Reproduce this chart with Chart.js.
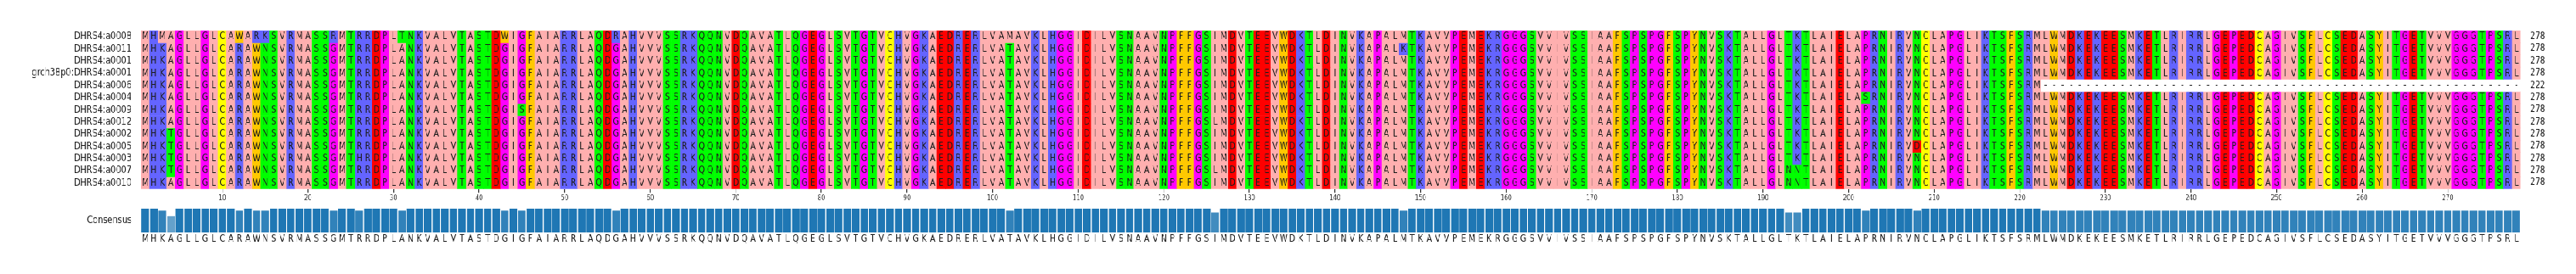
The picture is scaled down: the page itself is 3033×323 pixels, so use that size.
<!DOCTYPE html>
<html>
<head>
<meta charset="utf-8">
<title>DHRS4 - alinhamento</title>
<script src="https://cdn.jsdelivr.net/npm/chart.js@4.4.1/dist/chart.umd.min.js"></script>
<style>
  html, body { margin: 0; padding: 0; background: #fff; overflow: hidden; }
  #figura { position: relative; width: 3033px; height: 323px; overflow: hidden; }
  /* a figura original tem o texto mais estreito que alto: desenha largo e comprime em x */
  #esticado { position: absolute; left: 0; top: 0; width: 3791px; height: 323px; transform: scaleX(0.8); transform-origin: 0 0; }
  #alinhamento { position: absolute; left: 0; top: 0; }
  #consenso { position: absolute; left: 0; top: 240px; }
</style>
</head>
<body>
<div id="figura">
  <div id="esticado">
    <canvas id="alinhamento" width="3791" height="240"></canvas>
    <canvas id="consenso" width="3791" height="83"></canvas>
  </div>
</div>
<script>
const nomes = [
  "DHRS4:a0008",
  "DHRS4:a0011",
  "DHRS4:a0001",
  "grch38p0:DHRS4:a0001",
  "DHRS4:a0006",
  "DHRS4:a0004",
  "DHRS4:a0009",
  "DHRS4:a0012",
  "DHRS4:a0002",
  "DHRS4:a0005",
  "DHRS4:a0003",
  "DHRS4:a0007",
  "DHRS4:a0010",
];

// blocos de 10 residuos, os espacos saem na leitura
const sequencias = [
  "MHMAGLLGLC AWARKSVRMA SSRMTRRDPL TNKVALVTAS TDWIGFAIAR RLAQDRAHVV VSSRKQQNVD QAVATLQGEG LSVTGTVCHV GKAEDRERLV AMAVKLHGGI DILVSNAAVN PFFGSIMDVT EEVWDKTLDI NVKAPALMTK AVVPEMEKRG GGSVVIVSSI AAFSPSPGFS PYNVSKTALL GLTKTLAIEL APRNIRVNCL APGLIKTSFS RMLWMDKEKE ESMKETLRIR RLGEPEDCAG IVSFLCSEDA SYITGETVVV GGGTPSRL",
  "MHKAGLLGLC ARAWNSVRMA SSGMTRRDPL ANKVALVTAS TDGIGFAIAR RLAQDGAHVV VSSRKQQNVD QAVATLQGEG LSVTGTVCHV GKAEDRERLV ATAVKLHGGI DILVSNAAVN PFFGSIMDVT EEVWDKTLDI NVKAPALKTK AVVPEMEKRG GGSVVIVSSI AAFSPSPGFS PYNVSKTALL GLTKTLAIEL APRNIRVNCL APGLIKTSFS RMLWMDKEKE ESMKETLRIR RLGEPEDCAG IVSFLCSEDA SYITGETVVV GGGTPSRL",
  "MHKAGLLGLC ARAWNSVRMA SSGMTRRDPL ANKVALVTAS TDGIGFAIAR RLAQDGAHVV VSSRKQQNVD QAVATLQGEG LSVTGTVCHV GKAEDRERLV ATAVKLHGGI DILVSNAAVN PFFGSIMDVT EEVWDKTLDI NVKAPALMTK AVVPEMEKRG GGSVVIVSSI AAFSPSPGFS PYNVSKTALL GLTKTLAIEL APRNIRVNCL APGLIKTSFS RMLWMDKEKE ESMKETLRIR RLGEPEDCAG IVSFLCSEDA SYITGETVVV GGGTPSRL",
  "MHKAGLLGLC ARAWNSVRMA SSGMTRRDPL ANKVALVTAS TDGIGFAIAR RLAQDGAHVV VSSRKQQNVD QAVATLQGEG LSVTGTVCHV GKAEDRERLV ATAVKLHGGI DILVSNAAVN PFFGSIMDVT EEVWDKTLDI NVKAPALMTK AVVPEMEKRG GGSVVIVSSI AAFSPSPGFS PYNVSKTALL GLTKTLAIEL APRNIRVNCL APGLIKTSFS RMLWMDKEKE ESMKETLRIR RLGEPEDCAG IVSFLCSEDA SYITGETVVV GGGTPSRL",
  "MHKAGLLGLC ARAWNSVRMA SSGMTRRDPL ANKVALVTAS TDGIGFAIAR RLAQDGAHVV VSSRKQQNVD QAVATLQGEG LSVTGTVCHV GKAEDRERLV ATAVKLHGGI DILVSNAAVN PFFGSIMDVT EEVWDKTLDI NVKAPALMTK AVVPEMEKRG GGSVVIVSSI AAFSPSPGFS PYNVSKTALL GLTKTLAIEL APRNIRVNCL APGLIKTSFS RM-------- ---------- ---------- ---------- ---------- ---------- --------",
  "MHKAGLLGLC ARAWNSVRMA SSGMTRRDPL ANKVALVTAS TDGIGFAIAR RLAQDGAHVV VSSRKQQNVD QAVATLQGEG LSVTGTVCHV GKAEDRERLV ATAVKLHGGI DILVSNAAVN PFFGSIMDVT EEVWDKTLDI NVKAPALMTK AVVPEMEKRG GGSVVIVSSI AAFSPSPGFS PYNVSKTALL GLTKTLAIEL ASRNIRVNCL APGLIKTSFS RMLWMDKEKE ESMKETLRIR RLGEPEDCAG IVSFLCSEDA SYITGETVVV GGGTPSRL",
  "MHKAGLLGLC ARAWNSVRMA SSGMTRRDPL ANKVALVTAS TDGISFAIAR RLAQDGAHVV VSSRKQQNVD QAVATLQGEG LSVTGTVCHV GKAEDRERLV ATAVKLHGGI DILVSNAAVN PFFGSIMDVT EEVWDKTLDI NVKAPALMTK AVVPEMEKRG GGSVVIVSSI AAFSPSPGFS PYNVSKTALL GLTKTLAIEL APRNIRVNCL APGLIKTSFS RMLWMDKEKE ESMKETLRIR RLGEPEDCAG IVSFLCSEDA SYITGETVVV GGGTPSRL",
  "MHKAGLLGLC ARAWNSVRMA SSGMTRRDPL ANKVALVTAS TDGIGFAIAR RLAQDGAHVV VSSRKQQNVD QAVATLQGEG LSVTGTVCHV GKAEDRERLV ATAVKLHGGI DILVSNAAVN PFFGSLMDVT EEVWDKTLDI NVKAPALMTK AVVPEMEKRG GGSVVIVSSI AAFSPSPGFS PYNVSKTALL GLTKTLAIEL APRNIRVNCL APGLIKTSFS RMLWMDKEKE ESMKETLRIR RLGEPEDCAG IVSFLCSEDA SYITGETVVV GGGTPSRL",
  "MHKTGLLGLC ARAWNSVRMA SSGMTRRDPL ANKVALVTAS TDGIGFAIAR RLAQDGAHVV VSSRKQQNVD QAVATLQGEG LSVTGTVCHV GKAEDRERLV ATAVKLHGGI DILVSNAAVN PFFGSIMDVT EEVWDKTLDI NVKAPALMTK AVVPEMEKRG GGSVVIVSSI AAFSPSPGFS PYNVSKTALL GLTKTLAIEL APRNIRVNCL APGLIKTSFS RMLWMDKEKE ESMKETLRIR RLGEPEDCAG IVSFLCSEDA SYITGETVVV GGGTPSRL",
  "MHKTGLLGLC ARAWNSVRMA SSGMTRRDPL ANKVALVTAS TDGIGFAIAR RLAQDGAHVV VSSRKQQNVD QAVATLQGEG LSVTGTVCHV GKAEDRERLV ATAVKLHGGI DILVSNAAVN PFFGSIMDVT EEVWDKTLDI NVKAPALMTK AVVPEMEKRG GGSVVIVSSI AAFSPSPGFS PYNVSKTALL GLTKTLAIEL APRNIRVDCL APGLIKTSFS RMLWMDKEKE ESMKETLRIR RLGEPEDCAG IVSFLCSEDA SYITGETVVV GGGTPSRL",
  "MHKTGLLGLC ARAWNSVRMA SSGMTHRDPL ANKVALVTAS TDGIGFAIAR RLAQDGAHVV VSSRKQQNVD QAVATLQGEG LSVTGTVCHV GKAEDRERLV ATAVKLHGGI DILVSNAAVN PFFGSIMDVT EEVWDKTLDI NVKAPALMTK AVVPEMEKRG GGSVVIVSSI AAFSPSPGFS PYNVSKTALL GLTKTLAIEL APRNIRVNCL APGLIKTSFS RMLWMDKEKE ESMKETLRIR RLGEPEDCAG IVSFLCSEDA SYITGETVVV GGGTPSRL",
  "MHKTGLLGLC ARAWNSVRMA SSGMTRRDPL ANKVALVTAS TDGIGFAIAR RLAQDGAHVV VSSRKQQNVD QAVATLQGEG LSVTGTVCHV GKAEDRERLV ATAVKLHGGI DILVSNAAVN PFFGSLMDVT EEVWDKTLDI NVKAPALMTK AVVPEMEKRG GGSVVIVSSI AAFSPSPGFS PYNVSKTALL GLNNTLAIEL APRNIRVNCL APGLIKTSFS RMLWMDKEKE ESMKETLRIR RLGEPEDCAG IVSFLCSEDA SYITGETVVV GGGTPSRL",
  "MHKAGLLGLC ARAWNSVRMA SSGMTRRDPL ANKVALVTAS TDGIGFAIAR RLAQDGAHVV VSSRKQQNVD QAVATLQGEG LSVTGTVCHV GKAEDRERLV ATAVKLHGGI DILVSNAAVN PFFGSIMDVT EEVWDKTLDI NVKAPALMTK AVVPEMEKRG GGSVVIVSSI AAFSPSPGFS PYNVSKTALL GLNNTLAIEL APRNIRVNCL APGLIKTSFS RMLWMDKEKE ESMKETLRIR RLGEPEDCAG IVSFLCSEDA SYITGETVVV GGGTPSRL",
];

// esquema Zappo
const corZappo = {
  A: "#ffafaf", I: "#ffafaf", L: "#ffafaf", M: "#ffafaf", V: "#ffafaf",
  F: "#ffc800", W: "#ffc800", Y: "#ffc800",
  K: "#6464ff", R: "#6464ff", H: "#6464ff",
  D: "#ff0000", E: "#ff0000",
  S: "#00ff00", T: "#00ff00", N: "#00ff00", Q: "#00ff00",
  G: "#ff00ff", P: "#ff00ff",
  C: "#ffff00",
  "-": "#ffffff",
};

const FONTE = "'DejaVu Sans', sans-serif";

const linhas = sequencias.map((s) => s.replace(/\s+/g, ""));
const posicoes = Array.from(linhas[0], (_, i) => String(i + 1));
const contagens = linhas.map((l) => l.replace(/-/g, "").length);

function calcularConsenso(seqs) {
  const letras = [];
  const identidade = [];

  for (let j = 0; j < seqs[0].length; j++) {
    const contagem = {};
    seqs.forEach((s) => {
      if (s[j] !== "-") contagem[s[j]] = (contagem[s[j]] || 0) + 1;
    });

    let melhor = "-";
    let maximo = 0;
    for (const letra in contagem) {
      if (contagem[letra] > maximo) {
        melhor = letra;
        maximo = contagem[letra];
      }
    }
    letras.push(melhor);
    identidade.push(maximo / seqs.length);
  }

  return { letras, identidade };
}

const consenso = calcularConsenso(linhas);

// o Chart.js reserva meia altura de rotulo nas pontas dos eixos; aqui nao precisa
function semFolga(scale) {
  scale.paddingTop = 0;
  scale.paddingBottom = 0;
  scale.paddingLeft = 0;
  scale.paddingRight = 0;
}

// escreve a letra de cada residuo no meio da sua celula
const letrasResiduos = {
  id: "letrasResiduos",
  afterDatasetsDraw(chart) {
    const ctx = chart.ctx;
    ctx.save();
    ctx.font = "11.4px " + FONTE;
    ctx.fillStyle = "#1e1e1e";
    ctx.textAlign = "center";
    ctx.textBaseline = "middle";

    chart.data.datasets.forEach((ds, i) => {
      const seq = linhas[i];
      chart.getDatasetMeta(i).data.forEach((celula, j) => {
        const centro = celula.getCenterPoint();
        ctx.fillText(seq[j], centro.x, centro.y + 0.3);
      });
    });

    ctx.restore();
  },
};

function eixoLinhas(posicao, rotulos, padding, largura) {
  return {
    type: "linear",
    position: posicao,
    stacked: posicao === "left",
    reverse: true,
    min: 0,
    max: linhas.length,
    bounds: "data",
    grid: { display: false, drawTicks: false },
    border: { display: false },
    afterBuildTicks: (scale) => {
      scale.ticks = rotulos.map((_, i) => ({ value: i + 0.5 }));
    },
    afterFit: (scale) => {
      scale.width = largura;
      semFolga(scale);
    },
    ticks: {
      autoSkip: false,
      padding: padding,
      color: "#222",
      font: { family: FONTE, size: posicao === "left" ? 12.2 : 11.4 },
      callback: (valor, i) => rotulos[i],
    },
  };
}

new Chart(document.getElementById("alinhamento"), {
  type: "bar",
  data: {
    labels: posicoes,
    datasets: linhas.map((seq, i) => ({
      label: nomes[i],
      data: Array.from(seq, () => 1),
      backgroundColor: Array.from(seq, (c) => corZappo[c] || "#ffffff"),
      borderWidth: 0,
      barPercentage: 1,
      categoryPercentage: 1,
    })),
  },
  plugins: [letrasResiduos],
  options: {
    responsive: false,
    animation: false,
    devicePixelRatio: 1,
    layout: { padding: { top: 36, left: 0, right: 0, bottom: 0 } },
    plugins: {
      legend: { display: false },
      tooltip: { enabled: false },
    },
    scales: {
      x: {
        stacked: true,
        grid: {
          display: true,
          drawOnChartArea: false,
          drawTicks: true,
          tickLength: 4.5,
          offset: false,
          color: "#333",
          lineWidth: 1.25,
        },
        border: { display: false },
        afterBuildTicks: (scale) => {
          scale.ticks = scale.ticks.filter((t) => (t.value + 1) % 10 === 0);
        },
        afterFit: (scale) => {
          scale.height = 17.3;
          semFolga(scale);
        },
        ticks: {
          autoSkip: false,
          maxRotation: 0,
          minRotation: 0,
          padding: 1.5,
          color: "#333",
          font: { family: FONTE, size: 8.6 },
          callback: (valor) => posicoes[valor],
        },
      },
      y: eixoLinhas("left", nomes, 13.75, 207.5),
      y2: eixoLinhas("right", contagens, 14.5, 81.4),
    },
  },
});

new Chart(document.getElementById("consenso"), {
  type: "bar",
  data: {
    labels: consenso.letras,
    datasets: [
      {
        label: "Consensus",
        data: consenso.identidade,
        backgroundColor: consenso.identidade.map((v) => `rgba(31,119,180,${v})`),
        borderColor: "rgba(255,255,255,0.8)",
        borderWidth: 0.7,
        borderSkipped: "start",
        inflateAmount: 0,
        barPercentage: 1,
        categoryPercentage: 1,
      },
    ],
  },
  options: {
    responsive: false,
    animation: false,
    devicePixelRatio: 1,
    layout: { padding: { top: 5.3, left: 0, right: 81.4, bottom: 0 } },
    plugins: {
      legend: { display: false },
      tooltip: { enabled: false },
    },
    scales: {
      x: {
        grid: { display: false, drawTicks: false },
        border: { display: false },
        afterFit: (scale) => {
          scale.height = 49;
          semFolga(scale);
        },
        ticks: {
          autoSkip: false,
          maxRotation: 0,
          minRotation: 0,
          padding: 1,
          color: "#222",
          font: { family: FONTE, size: 11.4 },
        },
      },
      y: {
        min: 0,
        max: 1,
        bounds: "data",
        grid: { display: false, drawTicks: false },
        border: { display: false },
        afterBuildTicks: (scale) => {
          scale.ticks = [{ value: 0.5 }];
        },
        afterFit: (scale) => {
          scale.width = 207.5;
          semFolga(scale);
        },
        ticks: {
          padding: 13.75,
          color: "#222",
          font: { family: FONTE, size: 12.2 },
          callback: () => "Consensus",
        },
      },
    },
  },
});
</script>
</body>
</html>
